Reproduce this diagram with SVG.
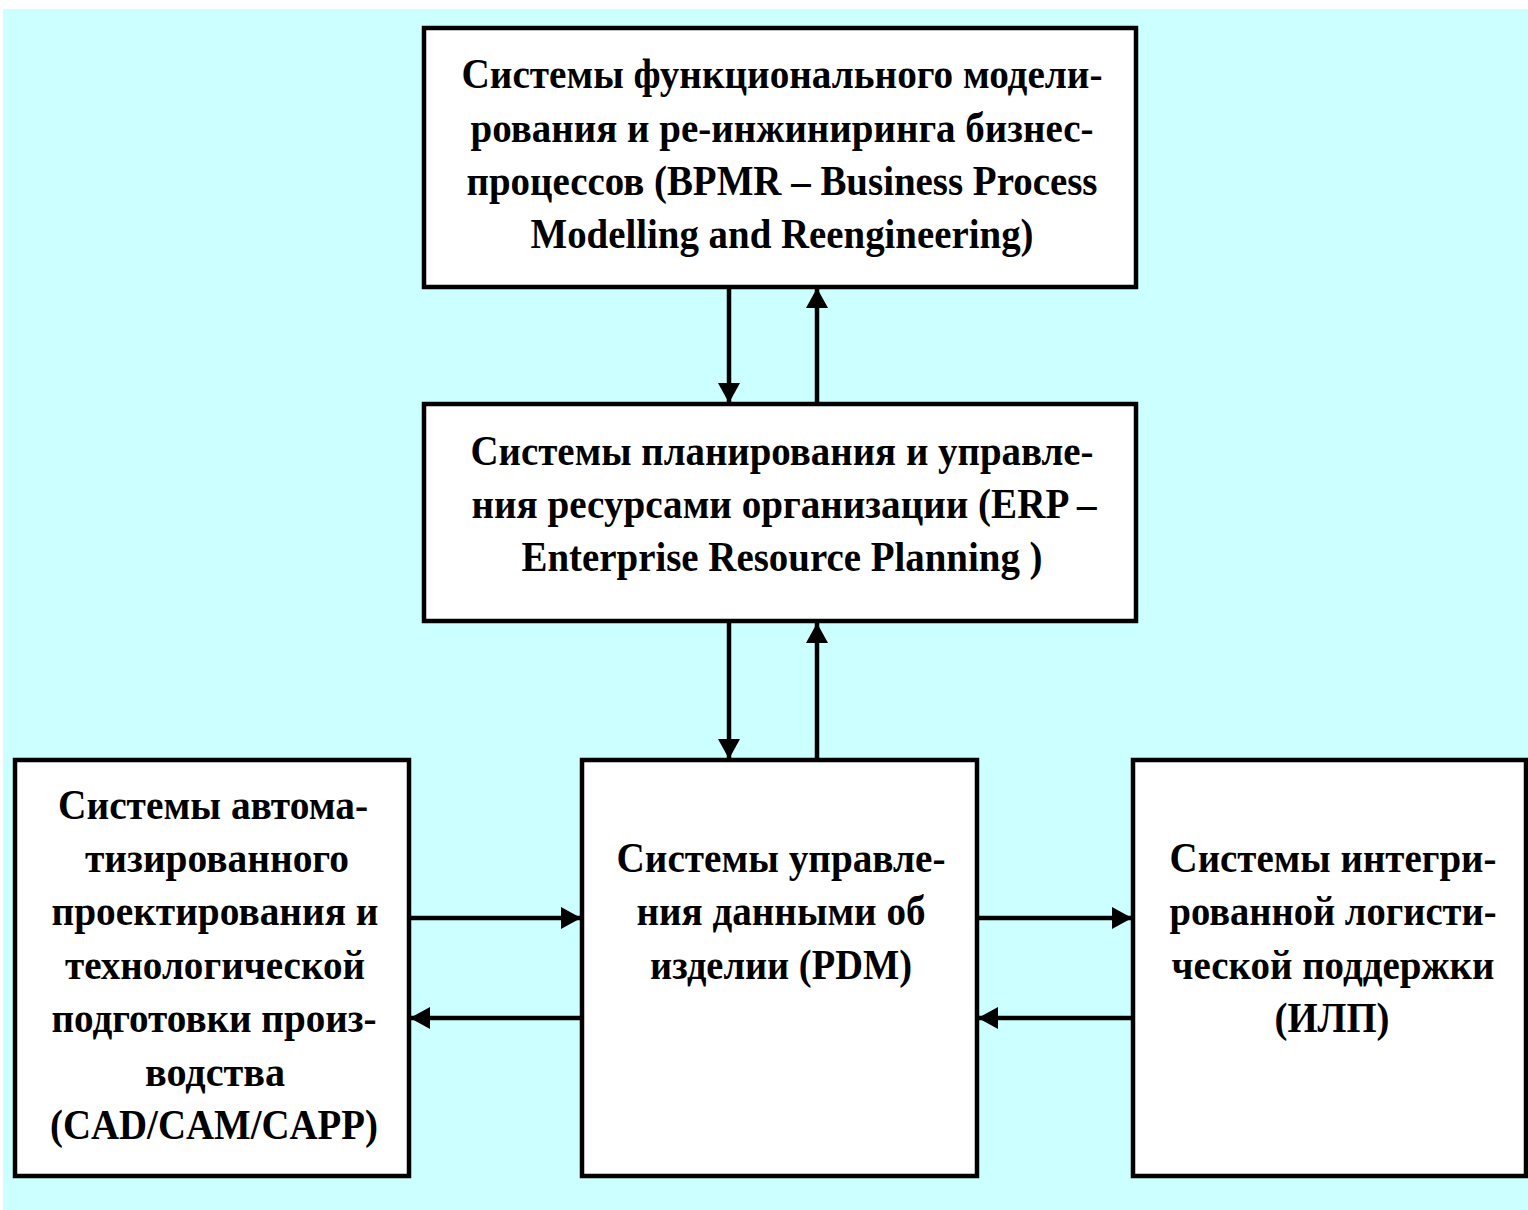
<svg xmlns="http://www.w3.org/2000/svg" width="1528" height="1210" viewBox="0 0 1528 1210">
<defs>
<style>
.box{fill:#fff;stroke:#000;stroke-width:4.5}
.t{font-family:"Liberation Serif","Times New Roman",serif;font-weight:bold;font-size:43px;fill:#000;text-anchor:middle}
.c{stroke:#000;stroke-width:4.5;fill:none}
</style>
<marker id="ah" viewBox="0 0 20 22" refX="20" refY="11" markerWidth="20" markerHeight="22" markerUnits="userSpaceOnUse" orient="auto">
<path d="M0,0 L20,11 L0,22 Z" fill="#000"/>
</marker>
</defs>
<rect x="0" y="0" width="1528" height="1210" fill="#fff"/>
<rect x="3" y="9" width="1525" height="1201" fill="#ccffff"/>
<g id="connectors">
<line class="c" x1="729" y1="287" x2="729" y2="403" marker-end="url(#ah)"/>
<line class="c" x1="817" y1="403" x2="817" y2="288" marker-end="url(#ah)"/>
<line class="c" x1="729" y1="622" x2="729" y2="759" marker-end="url(#ah)"/>
<line class="c" x1="817" y1="759" x2="817" y2="623" marker-end="url(#ah)"/>
<line class="c" x1="409" y1="918" x2="581" y2="918" marker-end="url(#ah)"/>
<line class="c" x1="582" y1="1018" x2="410" y2="1018" stroke-width="3.5" marker-end="url(#ah)"/>
<line class="c" x1="977" y1="918" x2="1132" y2="918" marker-end="url(#ah)"/>
<line class="c" x1="1133" y1="1018" x2="978" y2="1018" stroke-width="3.5" marker-end="url(#ah)"/>
</g>
<g id="bpmr">
<rect class="box" x="424" y="28" width="712" height="259"/>
<text class="t" x="782" y="88" textLength="641" lengthAdjust="spacingAndGlyphs">Системы функционального модели-</text>
<text class="t" x="782" y="142" textLength="623" lengthAdjust="spacingAndGlyphs">рования и ре-инжиниринга бизнес-</text>
<text class="t" x="782" y="195" textLength="631" lengthAdjust="spacingAndGlyphs">процессов (BPMR – Business Process</text>
<text class="t" x="782" y="248" textLength="503" lengthAdjust="spacingAndGlyphs">Modelling and Reengineering)</text>
</g>
<g id="erp">
<rect class="box" x="424" y="404" width="712" height="217"/>
<text class="t" x="782" y="465" textLength="623" lengthAdjust="spacingAndGlyphs">Системы планирования и управле-</text>
<text class="t" x="784" y="518" textLength="625" lengthAdjust="spacingAndGlyphs">ния ресурсами организации (ERP –</text>
<text class="t" x="782" y="571" textLength="521" lengthAdjust="spacingAndGlyphs">Enterprise Resource Planning )</text>
</g>
<g id="cad">
<rect class="box" x="15" y="760" width="394" height="416"/>
<text class="t" x="213" y="819" textLength="310" lengthAdjust="spacingAndGlyphs">Системы автома-</text>
<text class="t" x="217" y="872" textLength="264" lengthAdjust="spacingAndGlyphs">тизированного</text>
<text class="t" x="215" y="925" textLength="327" lengthAdjust="spacingAndGlyphs">проектирования и</text>
<text class="t" x="215" y="979" textLength="300" lengthAdjust="spacingAndGlyphs">технологической</text>
<text class="t" x="214" y="1032" textLength="325" lengthAdjust="spacingAndGlyphs">подготовки произ-</text>
<text class="t" x="215" y="1086" textLength="140" lengthAdjust="spacingAndGlyphs">водства</text>
<text class="t" x="214" y="1139" textLength="328" lengthAdjust="spacingAndGlyphs">(CAD/CAM/CAPP)</text>
</g>
<g id="pdm">
<rect class="box" x="582" y="760" width="395" height="416"/>
<text class="t" x="781" y="872" textLength="329" lengthAdjust="spacingAndGlyphs">Системы управле-</text>
<text class="t" x="781" y="925" textLength="289" lengthAdjust="spacingAndGlyphs">ния данными об</text>
<text class="t" x="781" y="979" textLength="262" lengthAdjust="spacingAndGlyphs">изделии (PDM)</text>
</g>
<g id="ilp">
<rect class="box" x="1133" y="760" width="393" height="416"/>
<text class="t" x="1333" y="872" textLength="327" lengthAdjust="spacingAndGlyphs">Системы интегри-</text>
<text class="t" x="1333" y="925" textLength="327" lengthAdjust="spacingAndGlyphs">рованной логисти-</text>
<text class="t" x="1333" y="979" textLength="323" lengthAdjust="spacingAndGlyphs">ческой поддержки</text>
<text class="t" x="1332" y="1032" textLength="115" lengthAdjust="spacingAndGlyphs">(ИЛП)</text>
</g>
</svg>
